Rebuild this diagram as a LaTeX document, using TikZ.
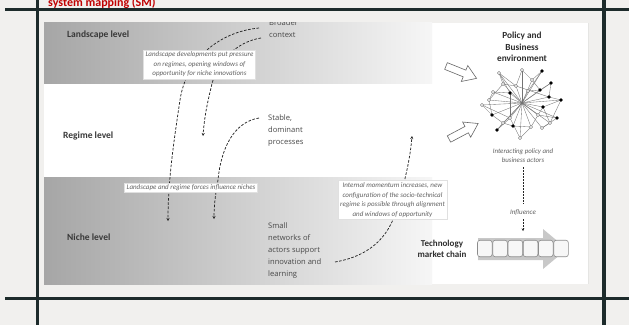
\documentclass[tikz,border=0pt]{standalone}
\usepackage{fontspec}
\setmainfont{Carlito}
\newfontfamily\osans{Open Sans}
\usetikzlibrary{arrows.meta}
\definecolor{bgc}{HTML}{F1F0EE}
\definecolor{barc}{HTML}{1D2B2B}
\definecolor{redc}{HTML}{C00000}
\definecolor{bandl}{HTML}{A6A6A6}
\definecolor{bandr}{HTML}{F6F6F6}
\definecolor{chainc}{HTML}{C8C8C8}
\begin{document}
\begin{tikzpicture}[x=1pt,y=-1pt,
  lvl/.style={font=\fontsize{9.5}{11}\selectfont\bfseries, text=black!78, anchor=base west, inner sep=0},
  desc/.style={font=\osans\fontsize{7.6}{9}\selectfont, text=black!72, anchor=base west, inner sep=0},
  ibox/.style={fill=white, draw=black!12, line width=0.3pt, font=\fontsize{7}{9.6}\selectfont\itshape, text=black!62, align=center, inner sep=2pt},
  dcurve/.style={draw=black!85, line width=0.75pt, dash pattern=on 2.6pt off 1.6pt, -{Stealth[length=3pt,width=3pt]}},
  hd/.style={font=\fontsize{9.3}{11.5}\selectfont\bfseries, text=black!82, align=center, inner sep=0},
  netl/.style={draw=black!55, line width=0.35pt},
  wn/.style={circle, draw=black!60, fill=white, line width=0.35pt, inner sep=0, minimum size=3.4pt},
  bn/.style={circle, fill=black, inner sep=0, minimum size=3.6pt},
  blk/.style={draw=black!60, fill=white, line width=0.6pt, line join=miter},
  cbox/.style={draw=black!45, fill=black!3, rounded corners=2.5pt, line width=0.6pt, minimum width=14.6pt, minimum height=16.5pt, inner sep=0}
]
\useasboundingbox (0,0) rectangle (629,325);
\fill[bgc] (0,0) rectangle (629,325);

% inner picture
\begin{scope}
\clip (44,22.5) rectangle (588,284);
\fill[white] (44,22.5) rectangle (588,284);
\shade[left color=bandl, right color=bandr] (44,22.5) rectangle (432,83);
\shade[left color=bandl, right color=bandr] (44,177) rectangle (432,284);

\node[lvl] (land) at (67,37) {Landscape level};
\node[lvl] (reg) at (63,138) {Regime level};
\node[lvl] (niche) at (67,240) {Niche level};

\node[desc] (broader) at (269,25) {Broader};
\node[desc] (context) at (269,37) {context};
\node[desc] (st1) at (268,120.5) {Stable,};
\node[desc] (st2) at (268,132.5) {dominant};
\node[desc] (st3) at (268,144.5) {processes};
\node[desc] (sm1) at (268,228.5) {Small};
\node[desc] (sm2) at (268,240.5) {networks of};
\node[desc] (sm3) at (268,252.5) {actors support};
\node[desc] (sm4) at (268,264.5) {innovation and};
\node[desc] (sm5) at (268,276.5) {learning};

% dashed curves
\coordinate (c1s) at (259,28);
\coordinate (c1m) at (180,100);
\coordinate (c1e) at (168,221);
\draw[dcurve] (c1s) .. controls (218,32) and (186,60) .. (c1m) .. controls (174,140) and (168,180) .. (c1e);
\coordinate (c2s) at (261,38);
\coordinate (c2m) at (211,88);
\coordinate (c2e) at (203,136);
\draw[dcurve] (c2s) .. controls (236,42) and (216,62) .. (c2m) .. controls (206,108) and (204,122) .. (c2e);
\coordinate (c3s) at (259,118);
\coordinate (c3m) at (218,180);
\coordinate (c3e) at (214,219);
\draw[dcurve] (c3s) .. controls (234,122) and (221,148) .. (c3m) .. controls (215,196) and (214,208) .. (c3e);
\coordinate (c4s) at (335,262);
\coordinate (c4m) at (398,205);
\coordinate (c4e) at (412,136);
\draw[dcurve] (c4s) .. controls (375,255) and (391,232) .. (c4m) .. controls (405,180) and (410,160) .. (c4e);

% white boxes
\node[ibox] (boxA) at (199.5,64.5) {Landscape developments put pressure\\on regimes, opening windows of\\opportunity for niche innovations};
\node[ibox, inner ysep=1.5pt] (boxB) at (191,187.5) {Landscape and regime forces influence niches};
\node[ibox] (boxC) at (392.5,200) {Internal momentum increases, new\\configuration of the socio-technical\\regime is possible through alignment\\and windows of opportunity};

% right side
\node[hd] (pol) at (522,47) {Policy and\\Business\\environment};

% block arrows
\begin{scope}[shift={(446,66)}, rotate=-22]
\draw[blk] (0,-3.6) -- (20,-3.6) -- (20,-8.6) -- (33,0) -- (20,8.6) -- (20,3.6) -- (0,3.6) -- cycle;
\end{scope}
\begin{scope}[shift={(449,139)}, rotate=28]
\draw[blk] (0,-3.6) -- (20,-3.6) -- (20,-8.6) -- (33,0) -- (20,8.6) -- (20,3.6) -- (0,3.6) -- cycle;
\end{scope}

% network
\coordinate (H) at (522,103);
\foreach \n/\x/\y in {w1/499/73, w2/522/70, w3/503/84, w4/493/92, w5/482/105, w6/532/80, w7/516/86, w8/510/118, w9/531/127, w10/520/138, w11/542/128, w12/503/123, w13/550/123, w14/528/91, w15/489/100, w16/538/115}
  \coordinate (\n) at (\x,\y);
\foreach \n/\x/\y in {b1/542/71, b2/551/83, b3/510/93, b4/540/90, b5/549/97, b6/561/100, b7/543/107, b8/492/115, b9/557/118, b10/497/130, b11/513/126}
  \coordinate (\n) at (\x,\y);
\foreach \n in {w1,w2,w3,w4,w5,w6,w7,w8,w9,w10,w11,w12,w13,w14,w15,w16,b1,b2,b3,b4,b5,b6,b7,b8,b9,b10,b11}
  \draw[netl] (H) -- (\n);
\foreach \a/\b in {w1/b3, w2/w6, b1/w6, b1/w14, b2/b4, w4/b3, b6/b7, w5/w8, b8/w12, b10/w12, w10/w9, w11/b9, w13/b7, w3/w7, w14/b4, w2/w7, w1/w3, b5/b6, w15/b8, w5/b8, w9/b11, w8/w10, b11/w12, b7/w16, w16/b9, w11/w13, b2/b5, w4/w15, w6/b4, b3/w8, w7/b5, b10/w8, w16/w9, b6/w13, w1/w7, w3/w15}
  \draw[netl] (\a) -- (\b);
\foreach \n in {w1,w2,w3,w4,w5,w6,w7,w8,w9,w10,w11,w12,w13,w14,w15,w16}
  \node[wn] at (\n) {};
\foreach \n in {b1,b2,b3,b4,b5,b6,b7,b8,b9,b10,b11}
  \node[bn] at (\n) {};

\node[font=\fontsize{6.9}{9}\selectfont\itshape, text=black!62, align=center, inner sep=0] (inter) at (523,155.5) {Interacting policy and\\business actors};
\node[font=\fontsize{7}{9}\selectfont\itshape, text=black!62, inner sep=0] (infl) at (523,212) {Influence};
\draw[draw=black!85, line width=0.75pt, dash pattern=on 1.6pt off 1.4pt] (523,167) -- (523,204);
\draw[draw=black!85, line width=0.75pt, dash pattern=on 1.6pt off 1.4pt, -{Stealth[length=2.6pt,width=2.6pt]}] (523,219) -- (523,231);

% technology market chain
\node[hd, font=\fontsize{9}{11.5}\selectfont\bfseries] (tech) at (442,249) {Technology\\market chain};
\fill[chainc] (478,238) -- (543,238) -- (543,229) -- (567,249) -- (543,269) -- (543,260) -- (478,260) -- cycle;
\foreach \i in {0,...,5}
  \node[cbox] (cb\i) at (484.8+15.25*\i,248.5) {};

\draw[black!40, line width=0.6pt] (588,22.5) -- (588,284);
\end{scope}

% frame lines
\draw[barc, line width=3.5pt] (5,9.5) -- (629,9.5);
\draw[barc, line width=3.5pt] (5,298.5) -- (629,298.5);
\draw[barc, line width=3.5pt] (37.5,0) -- (37.5,325);
\draw[barc, line width=3.8pt] (604,0) -- (604,325);

\node[font=\fontsize{12}{14}\selectfont\bfseries, text=redc, anchor=base west, inner sep=0] (title) at (48,6.5) {system mapping (SM)};
\end{tikzpicture}
\end{document}
